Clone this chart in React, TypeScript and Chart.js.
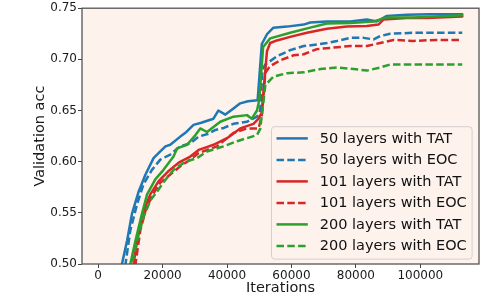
import React, { useEffect, useRef } from "react";
import { Chart, registerables } from "chart.js";

Chart.register(...registerables);

const xTicks = [0, 20000, 40000, 60000, 80000, 100000];
const yTicks = [0.5, 0.55, 0.6, 0.65, 0.7, 0.75];

const labels = [
  "50 layers with TAT",
  "50 layers with EOC",
  "101 layers with TAT",
  "101 layers with EOC",
  "200 layers with TAT",
  "200 layers with EOC",
];
const colors = ["#1f77b4", "#1f77b4", "#d62728", "#d62728", "#2ca02c", "#2ca02c"];
const dashed = [false, true, false, true, false, true];

const it50Tat = [5400, 7400, 9000, 10500, 12600, 14700, 17200, 19300, 20900, 22400, 25500, 27000, 29600, 32000, 35800, 37300, 39500, 42000, 44100, 46500, 49500, 50800, 52500, 54400, 58600, 63800, 65800, 71000, 78200, 83400, 86500, 89600, 95800, 103000, 113000];
const acc50Tat = [0.471, 0.5, 0.523, 0.549, 0.571, 0.5875, 0.6035, 0.61, 0.615, 0.6165, 0.6245, 0.628, 0.636, 0.638, 0.642, 0.65, 0.646, 0.652, 0.657, 0.659, 0.66, 0.715, 0.725, 0.731, 0.732, 0.734, 0.736, 0.737, 0.737, 0.739, 0.737, 0.7425, 0.7435, 0.744, 0.744];

const it50Eoc = [6500, 8500, 10000, 12100, 14100, 16700, 19300, 22400, 25500, 28600, 31200, 34000, 36400, 39000, 42000, 46200, 49300, 50300, 51000, 51900, 55500, 59600, 63800, 67900, 71000, 74100, 78200, 82400, 85500, 87500, 90600, 97900, 105000, 113000];
const acc50Eoc = [0.456, 0.5, 0.533, 0.5586, 0.578, 0.592, 0.602, 0.607, 0.615, 0.618, 0.6245, 0.627, 0.631, 0.633, 0.637, 0.639, 0.644, 0.65, 0.69, 0.695, 0.703, 0.709, 0.713, 0.7145, 0.716, 0.718, 0.721, 0.721, 0.7195, 0.7227, 0.725, 0.726, 0.726, 0.726];

const it101Tat = [9000, 11000, 12600, 14100, 16200, 18800, 21900, 25000, 28600, 31200, 33500, 35800, 40000, 44100, 48200, 49800, 50800, 52400, 53400, 55500, 59600, 64800, 71000, 77200, 83400, 87000, 88600, 95800, 102000, 113000];
const acc101Tat = [0.459, 0.5, 0.533, 0.552, 0.568, 0.581, 0.591, 0.599, 0.605, 0.6115, 0.614, 0.6165, 0.623, 0.6325, 0.637, 0.642, 0.648, 0.708, 0.716, 0.7185, 0.722, 0.726, 0.73, 0.732, 0.7325, 0.734, 0.739, 0.7405, 0.7405, 0.742];

const it101Eoc = [9600, 11600, 13100, 14700, 16700, 19300, 22400, 25500, 28600, 31200, 36900, 42000, 46200, 49800, 50800, 51900, 53400, 56500, 60700, 63800, 67900, 73100, 78200, 83400, 87500, 91700, 97900, 105000, 113000];
const acc101Eoc = [0.456, 0.5, 0.533, 0.552, 0.5666, 0.5795, 0.5875, 0.5955, 0.602, 0.6085, 0.615, 0.628, 0.6325, 0.6325, 0.645, 0.687, 0.6935, 0.699, 0.704, 0.705, 0.71, 0.7115, 0.713, 0.713, 0.716, 0.719, 0.718, 0.719, 0.719];

const it200Tat = [8000, 10000, 11600, 13600, 15200, 17800, 20300, 23400, 24500, 27600, 30200, 31700, 33800, 37900, 42000, 46200, 47700, 49300, 50000, 51200, 53400, 59600, 65800, 71000, 78200, 85500, 89600, 97900, 113000];
const acc200Tat = [0.471, 0.5, 0.523, 0.549, 0.568, 0.583, 0.592, 0.605, 0.613, 0.6165, 0.626, 0.6325, 0.629, 0.639, 0.644, 0.6455, 0.642, 0.65, 0.66, 0.712, 0.7205, 0.726, 0.731, 0.735, 0.7355, 0.737, 0.741, 0.741, 0.743];

const it200Eoc = [8500, 10500, 12100, 14100, 16200, 18800, 20300, 23400, 27100, 30700, 33800, 38900, 43100, 46200, 49300, 50300, 51900, 54400, 58600, 63800, 69000, 74100, 79300, 83400, 87500, 90600, 97900, 113000];
const acc200Eoc = [0.471, 0.5, 0.523, 0.5457, 0.562, 0.573, 0.58, 0.592, 0.6, 0.6035, 0.61, 0.615, 0.62, 0.623, 0.626, 0.632, 0.675, 0.683, 0.6865, 0.6873, 0.6905, 0.692, 0.6905, 0.689, 0.692, 0.695, 0.695, 0.695];

const seriesIts = [it50Tat, it50Eoc, it101Tat, it101Eoc, it200Tat, it200Eoc];
const seriesAccs = [acc50Tat, acc50Eoc, acc101Tat, acc101Eoc, acc200Tat, acc200Eoc];

const FONT = "'DejaVu Sans', sans-serif";
const PLOT_BG = "#fdf2ec";
const DASH = [7.5, 3.3];

const framePlugin = {
  id: "frame",
  beforeDatasetsDraw(chart: any) {
    const { ctx, chartArea: a } = chart;
    ctx.save();
    ctx.fillStyle = PLOT_BG;
    ctx.fillRect(a.left, a.top, a.right - a.left, a.bottom - a.top);
    ctx.restore();
  },
  afterDatasetsDraw(chart: any) {
    const { ctx, chartArea: a } = chart;
    ctx.save();
    ctx.strokeStyle = "#555";
    ctx.lineWidth = 1.3;
    ctx.strokeRect(a.left, a.top, a.right - a.left, a.bottom - a.top);
    ctx.restore();
  },
  afterDraw(chart: any) {
    const { ctx, chartArea: a } = chart;
    const bx = a.right - 207.5;
    const by = a.top + 118.5;
    const bw = 200.6;
    const bh = 132.4;
    ctx.save();
    ctx.beginPath();
    ctx.roundRect(bx, by, bw, bh, 3);
    ctx.fillStyle = "rgba(253,242,236,0.85)";
    ctx.fill();
    ctx.strokeStyle = "#d4d0ce";
    ctx.lineWidth = 1;
    ctx.stroke();
    const ds = chart.data.datasets;
    ds.forEach((d: any, i: number) => {
      const y = by + 11.7 + i * 21.5;
      ctx.beginPath();
      ctx.setLineDash(d.borderDash || []);
      ctx.strokeStyle = d.borderColor;
      ctx.lineWidth = 2.5;
      ctx.moveTo(bx + 5, y);
      ctx.lineTo(bx + 36.3, y);
      ctx.stroke();
      ctx.setLineDash([]);
      ctx.fillStyle = "#111";
      ctx.font = `14.5px ${FONT}`;
      ctx.textBaseline = "alphabetic";
      ctx.textAlign = "left";
      ctx.fillText(d.label, bx + 48.3, y + 4.5);
    });
    ctx.restore();
  },
};

export default function App() {
  const ref = useRef<HTMLCanvasElement | null>(null);
  useEffect(() => {
    if (!ref.current) return;
    const datasets = labels.map((label, i) => ({
      label,
      data: seriesIts[i].map((x, j) => ({ x, y: seriesAccs[i][j] })),
      borderColor: colors[i],
      backgroundColor: colors[i],
      borderWidth: 2.5,
      borderDash: dashed[i] ? DASH : [],
      borderCapStyle: dashed[i] ? "butt" : "round",
      borderJoinStyle: "round",
      pointRadius: 0,
      tension: 0,
      fill: false,
      order: labels.length - i,
    }));
    const chart = new Chart(ref.current, {
      type: "line",
      data: { datasets } as any,
      options: {
        animation: false,
        responsive: false,
        devicePixelRatio: 1,
        layout: { padding: { top: 5, right: 3, bottom: 0, left: 0 } },
        plugins: { legend: { display: false }, tooltip: { enabled: false } },
        scales: {
          x: {
            type: "linear",
            min: -5000,
            max: 118200,
            afterBuildTicks: (s: any) => {
              s.ticks = xTicks.map((v) => ({ value: v }));
            },
            afterFit: (s: any) => {
              s.height = 30;
            },
            ticks: {
              callback: (v: any) => String(v),
              font: { family: FONT, size: 12 },
              color: "#1a1a1a",
              padding: 1,
              maxRotation: 0,
            },
            grid: {
              display: true,
              drawOnChartArea: false,
              drawTicks: true,
              tickLength: 4,
              tickColor: "#444",
              tickWidth: 1,
            },
            border: { display: false },
            title: {
              display: true,
              text: "Iterations",
              font: { family: FONT, size: 14.5, lineHeight: 1 },
              color: "#1a1a1a",
              padding: { top: 0, bottom: -1 },
            },
          },
          y: {
            type: "linear",
            min: 0.5,
            max: 0.75,
            afterBuildTicks: (s: any) => {
              s.ticks = yTicks.map((v) => ({ value: v }));
            },
            afterFit: (s: any) => {
              s.width = 82;
            },
            ticks: {
              callback: (v: any) => Number(v).toFixed(2),
              font: { family: FONT, size: 12 },
              color: "#1a1a1a",
              padding: 1,
            },
            grid: {
              display: true,
              drawOnChartArea: false,
              drawTicks: true,
              tickLength: 4,
              tickColor: "#444",
              tickWidth: 1,
            },
            border: { display: false },
            title: {
              display: true,
              text: "Validation acc",
              font: { family: FONT, size: 14.5, lineHeight: 1.2 },
              color: "#1a1a1a",
              padding: { top: 31.3, bottom: 0 },
            },
          },
        },
      } as any,
      plugins: [framePlugin],
    });
    return () => chart.destroy();
  }, []);
  return (
    <div style={{ position: "fixed", left: 0, top: 0, width: 482, height: 294, background: "#fff" }}>
      <canvas ref={ref} width={482} height={294} style={{ width: 482, height: 294, display: "block" }} />
    </div>
  );
}
